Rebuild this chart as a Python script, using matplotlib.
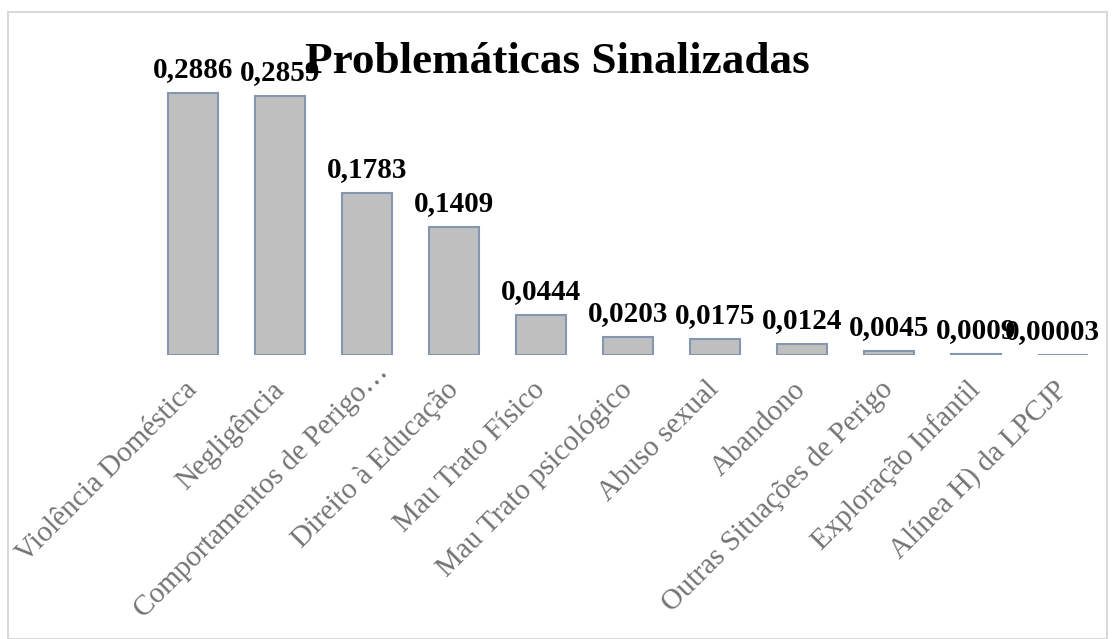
import matplotlib
matplotlib.use("Agg")
import matplotlib.pyplot as plt
from matplotlib.patches import Rectangle
from matplotlib.transforms import ScaledTranslation

categories = ["Violência Doméstica", "Negligência", "Comportamentos de Perigo…",
              "Direito à Educação", "Mau Trato Físico", "Mau Trato psicológico",
              "Abuso sexual", "Abandono", "Outras Situações de Perigo",
              "Exploração Infantil", "Alínea H) da LPCJP"]
values = [0.2886, 0.2859, 0.1783, 0.1409, 0.0444, 0.0203, 0.0175, 0.0124,
          0.0045, 0.0009, 0.00003]
value_labels = ["0,2886", "0,2859", "0,1783", "0,1409", "0,0444", "0,0203",
                "0,0175", "0,0124", "0,0045", "0,0009", "0,00003"]
title = "Problemáticas Sinalizadas"

W, H = 1112, 639
fig = plt.figure(figsize=(W / 100, H / 100), dpi=100)
plt.rcParams['font.family'] = ['Liberation Serif', 'DejaVu Serif']

# chart border
fig.patches.append(Rectangle((8 / W, 0), (1107 - 8) / W, 1 - 12 / H,
                             transform=fig.transFigure, fill=False,
                             edgecolor='#D9D9D9', linewidth=1.5))

base_y = 355
ppu = 907.0
ymax = 0.3
ax = fig.add_axes([149.5 / W, 1 - base_y / H, 957 / W, ymax * ppu / H])
ax.set_xlim(-0.5, len(categories) - 0.5)
ax.set_ylim(0, ymax)
x = list(range(len(categories)))
bars = ax.bar(x, values, width=50 / 87, color='#BFBFBF', edgecolor='#8496B0',
              linewidth=1.5, zorder=2)
anns = []
for xi, v, lab in zip(x, values, value_labels):
    a = ax.annotate(lab, (xi, v), xytext=(0, 11.5), textcoords='offset points',
                    ha='center', va='baseline', fontsize=21, fontweight='bold',
                    color='black', zorder=3, annotation_clip=False)
    anns.append(a)

ax.set_xticks(x)
ax.set_xticklabels(categories, rotation=45, ha='right', va='center',
                   rotation_mode='anchor', fontsize=21, color='#737373')
ax.tick_params(axis='x', length=0, pad=22)
ax.set_yticks([])
for s in ax.spines.values():
    s.set_visible(False)
ax.patch.set_alpha(0)

# truncated long label sits a bit further along its diagonal
for t in ax.get_xticklabels():
    if t.get_text().endswith("…"):
        t.set_transform(t.get_transform() +
                        ScaledTranslation(0.17, 0.17, fig.dpi_scale_trans))

fig.text(557 / W, 1 - 73 / H, title, ha='center', va='baseline',
         fontsize=32.5, fontweight='bold', color='black')

# keep value labels inside the chart area (as the source program does)
fig.canvas.draw()
r = fig.canvas.get_renderer()
for a in anns:
    bb = a.get_window_extent(r)
    if bb.x1 > 1100:
        shift = (bb.x1 - 1100) * 72 / fig.dpi
        a.xyann = (-shift, 11.5)

fig.savefig("out.png", dpi=100)
